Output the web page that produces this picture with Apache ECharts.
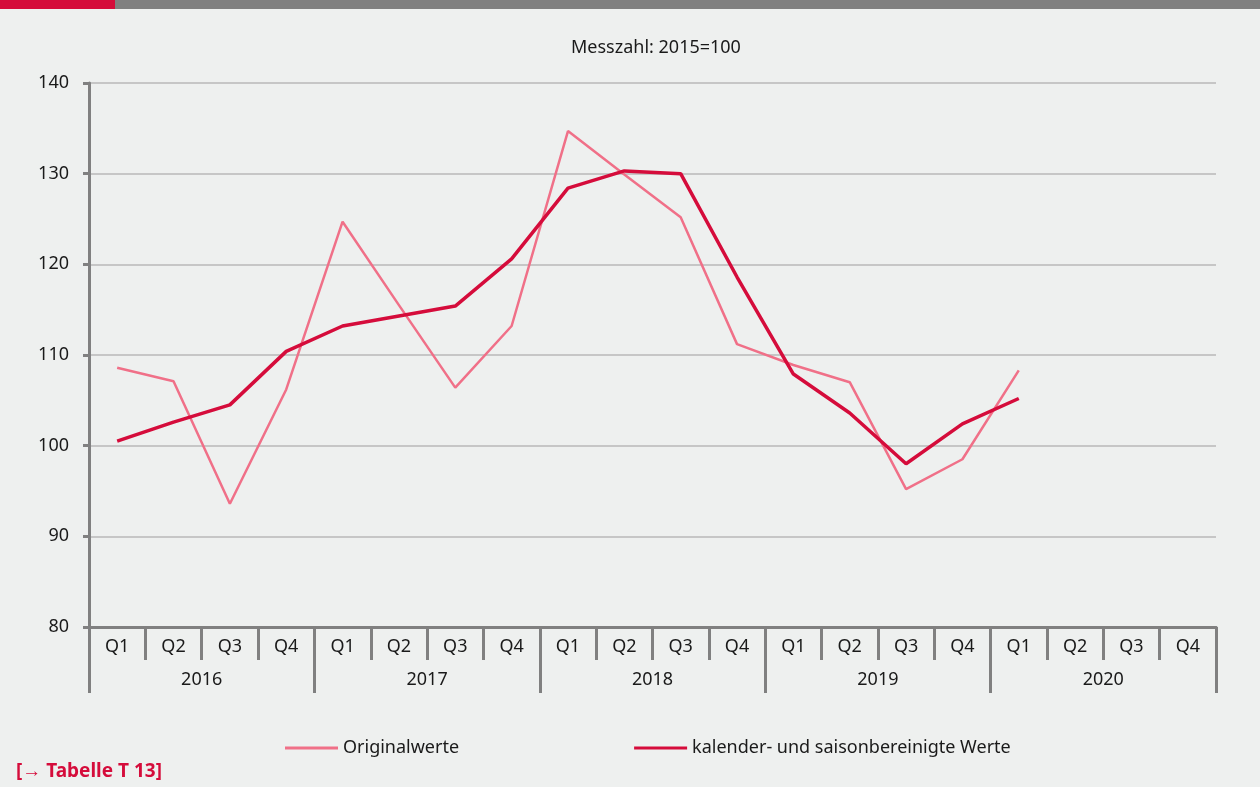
<!DOCTYPE html>
<html>
<head>
<meta charset="utf-8">
<script src="https://cdn.jsdelivr.net/npm/echarts@6/dist/echarts.min.js"></script>
<style>
  html, body { margin: 0; padding: 0; background: #eef0ef; }
  #chart { width: 1260px; height: 787px; }
</style>
</head>
<body>
<div id="chart"></div>
<script>
  'use strict';

  // Quartale und Jahre
  var quarters = [
    'Q1', 'Q2', 'Q3', 'Q4', 'Q1', 'Q2', 'Q3', 'Q4', 'Q1', 'Q2',
    'Q3', 'Q4', 'Q1', 'Q2', 'Q3', 'Q4', 'Q1', 'Q2', 'Q3', 'Q4'
  ];
  var years = ['2016', '2017', '2018', '2019', '2020'];

  // Originalwerte
  var originalwerte = [
    108.6, 107.1, 93.6, 106.2,
    124.7, 115.5, 106.4, 113.2,
    134.7, 129.9, 125.2, 111.2,
    108.9, 107.0, 95.2, 98.5,
    108.3
  ];

  // kalender- und saisonbereinigte Werte
  var bereinigt = [
    100.5, 102.6, 104.5, 110.4,
    113.2, 114.3, 115.4, 120.6,
    128.4, 130.3, 130.0, 118.6,
    107.9, 103.6, 98.0, 102.4,
    105.2
  ];

  var font = 'Noto Sans';
  var grey = '#808080';
  var textColor = '#1a1a1a';

  var chart = echarts.init(document.getElementById('chart'));

  chart.setOption({
    backgroundColor: '#eef0ef',
    animation: false,
    textStyle: { fontFamily: font },
    title: {
      text: 'Messzahl: 2015=100',
      left: 566,
      top: 34,
      textStyle: { fontFamily: font, fontSize: 18, fontWeight: 'normal', color: textColor }
    },
    graphic: [
      { type: 'rect', left: 0, top: 0, shape: { width: 1260, height: 9 }, style: { fill: grey } },
      { type: 'rect', left: 0, top: 0, shape: { width: 115, height: 9 }, style: { fill: '#d50c3b' } },
      {
        type: 'text', left: 16, top: 762,
        style: { text: '[\u2192 Tabelle T 13]', fill: '#d50c3b', font: 'bold 19px "Noto Sans"' }
      }
    ],
    legend: {
      left: 280,
      top: 734,
      itemGap: 175,
      itemWidth: 53,
      itemHeight: 3,
      icon: 'rect',
      textStyle: { fontFamily: font, fontSize: 18, color: textColor },
      data: ['Originalwerte', 'kalender- und saisonbereinigte Werte']
    },
    grid: { left: 89, right: 44, top: 83, bottom: 160 },
    xAxis: [
      {
        type: 'category',
        data: quarters,
        boundaryGap: true,
        axisLine: { show: true, lineStyle: { color: grey, width: 3 } },
        axisTick: { show: true, interval: 0, length: 33, lineStyle: { color: grey, width: 3 } },
        axisLabel: { interval: 0, margin: 11, fontSize: 18, color: textColor, fontFamily: font }
      },
      {
        type: 'category',
        data: years,
        position: 'bottom',
        boundaryGap: true,
        axisLine: { show: true, lineStyle: { color: grey, width: 3 } },
        axisTick: { show: true, interval: 0, length: 66, lineStyle: { color: grey, width: 3 } },
        axisLabel: { interval: 0, margin: 44, fontSize: 18, color: textColor, fontFamily: font }
      }
    ],
    yAxis: {
      type: 'value',
      min: 80,
      max: 140,
      interval: 10,
      axisLine: { show: true, lineStyle: { color: grey, width: 3 } },
      axisTick: { show: true, length: 6, lineStyle: { color: grey, width: 3 } },
      axisLabel: { margin: 20, fontSize: 18, color: textColor, fontFamily: font },
      splitLine: { lineStyle: { color: '#c6c6c6', width: 2 } }
    },
    series: [
      {
        name: 'Originalwerte',
        type: 'line',
        xAxisIndex: 0,
        data: originalwerte,
        symbol: 'none',
        color: '#f07088',
        lineStyle: { width: 2.5, color: '#f07088' },
        z: 2
      },
      {
        name: 'kalender- und saisonbereinigte Werte',
        type: 'line',
        xAxisIndex: 0,
        data: bereinigt,
        symbol: 'none',
        color: '#d50c3b',
        lineStyle: { width: 3.5, color: '#d50c3b' },
        z: 3
      }
    ]
  });
</script>
</body>
</html>
